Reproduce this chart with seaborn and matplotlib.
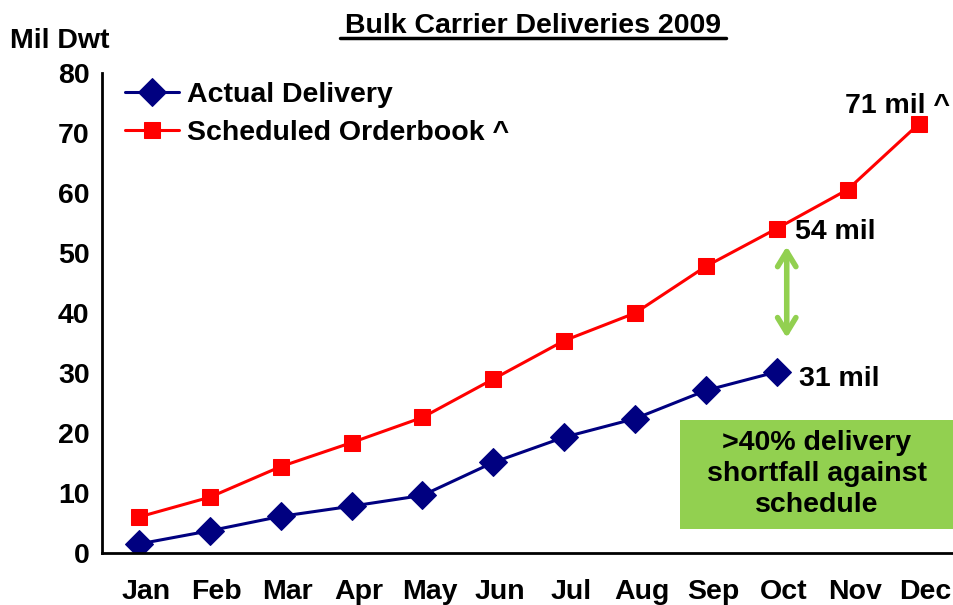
import numpy as np
import pandas as pd
import matplotlib
matplotlib.use("Agg")
import matplotlib.pyplot as plt
import matplotlib.transforms as mtransforms
import seaborn as sns
from matplotlib.lines import Line2D
from matplotlib.patches import Rectangle

# -------------------------------
# DATA (Mil Dwt, cumulative)
# -------------------------------
months = ["Jan", "Feb", "Mar", "Apr", "May", "Jun", "Jul", "Aug", "Sep", "Oct", "Nov", "Dec"]
actual = [1.5, 3.7, 6.1, 7.8, 9.6, 15.1, 19.3, 22.4, 27.1, 30.2]
scheduled = [6.0, 9.3, 14.4, 18.4, 22.6, 29.0, 35.4, 40.0, 47.8, 54.1, 60.6, 71.5]
yticks = [0, 10, 20, 30, 40, 50, 60, 70, 80]

# -------------------------------
# STYLE
# -------------------------------
sns.set_theme(style="white")
plt.rcParams["font.family"] = ["Liberation Sans", "DejaVu Sans"]
plt.rcParams["font.weight"] = "bold"
for k in ["text.color", "xtick.color", "ytick.color", "axes.labelcolor"]:
    plt.rcParams[k] = "black"

FS = 20.5

fig = plt.figure(figsize=(9.54, 6.05), dpi=100)
ax = fig.add_axes([0.107, 0.086, 0.893, 0.793])

df_act = pd.DataFrame({"x": np.arange(len(actual)), "y": actual})
df_sch = pd.DataFrame({"x": np.arange(len(scheduled)), "y": scheduled})

sns.lineplot(data=df_act, x="x", y="y", ax=ax, color="#000080", lw=2.2,
             marker="D", markersize=14, markeredgecolor="#000080", label="Actual Delivery")
sns.lineplot(data=df_sch, x="x", y="y", ax=ax, color="#FF0000", lw=2.2,
             marker="s", markersize=11, markeredgecolor="#FF0000", label="Scheduled Orderbook ^")

ax.set_xlim(-0.52, 11.5)
ax.set_ylim(0, 80)
ax.set_xticks(range(len(months)))
ax.set_xticklabels(months)
ax.set_yticks(yticks)
ax.tick_params(axis="both", length=0, labelsize=FS)
ax.tick_params(axis="x", pad=19)
ax.tick_params(axis="y", pad=9)
shift = mtransforms.ScaledTranslation(0.07, 0, fig.dpi_scale_trans)
for lab in ax.get_xticklabels():
    lab.set_fontweight("bold")
    lab.set_transform(lab.get_transform() + shift)
for lab in ax.get_yticklabels():
    lab.set_fontweight("bold")
ax.set_xlabel("")
ax.set_ylabel("")

sns.despine(ax=ax, top=True, right=True)
for s in ["left", "bottom"]:
    ax.spines[s].set_color("black")
    ax.spines[s].set_linewidth(2)

leg = ax.legend(loc="upper left", bbox_to_anchor=(0.0, 1.03), frameon=False,
                prop={"size": FS, "weight": "bold"}, handlelength=1.9,
                handletextpad=0.3, labelspacing=0.45, borderaxespad=0.5, borderpad=0.3)

# -------------------------------
# TITLE / LABELS
# -------------------------------
fig.text(0.559, 0.957, "Bulk Carrier Deliveries 2009", ha="center", va="center",
         fontsize=FS, fontweight="bold")
fig.add_artist(Line2D([0.356, 0.761], [0.937, 0.937], transform=fig.transFigure,
                      color="black", lw=2.5))
fig.text(0.011, 0.932, "Mil Dwt", ha="left", va="center", fontsize=FS, fontweight="bold")

# annotations
ax.text(11.45, scheduled[11] + 3.1, "71 mil ^", ha="right", va="center",
        fontsize=FS, fontweight="bold")
ax.text(9.25, scheduled[9] - 0.6, "54 mil", ha="left", va="center",
        fontsize=FS, fontweight="bold")
ax.text(9.31, actual[9] - 1.2, "31 mil", ha="left", va="center",
        fontsize=FS, fontweight="bold")

# gap arrow
ax.annotate("", xy=(9.14, 51.6), xytext=(9.14, 35.4),
            arrowprops=dict(arrowstyle="<->,head_length=0.9,head_width=0.55",
                            color="#92D050", lw=4))

# shortfall box
fig.add_artist(Rectangle((0.713, 0.1256), 0.287, 0.180, transform=fig.transFigure,
                         fc="#92D050", ec="none"))
fig.text(0.856, 0.2165, ">40% delivery\nshortfall against\nschedule", ha="center", va="center",
         fontsize=FS, fontweight="bold", linespacing=1.25)

fig.savefig("out.png", dpi=100)
